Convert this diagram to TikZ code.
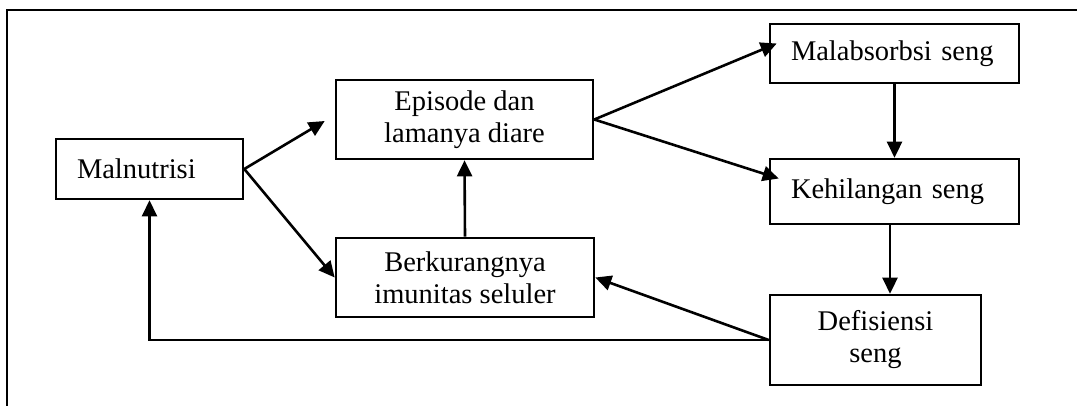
\documentclass[tikz,border=0pt]{standalone}
\usepackage{fontspec}
\setmainfont{Liberation Serif}
\usetikzlibrary{arrows.meta,calc}
\begin{document}
\begin{tikzpicture}[x=1pt,y=-1pt,
  box/.style={draw,line width=2.6pt,rectangle,inner sep=0pt,font=\fontsize{28.5}{32}\selectfont,align=center},
  leftbox/.style={box,align=left,inner xsep=21pt},
  arr/.style={line width=2.6pt,-{Triangle[length=16pt,width=15pt]}},
  ln/.style={line width=2.6pt}]
\useasboundingbox (0,0) rectangle (1077,405);
\draw[ln] (7,406) -- (7,10) -- (1078,10);

\node[leftbox,text width=145pt,minimum height=60pt] (mal) at (149.5,169) {Malnutrisi};
\node[box,minimum width=257pt,minimum height=79pt] (epi) at (464.5,119.5) {Episode dan\\lamanya diare};
\node[box,minimum width=258pt,minimum height=79pt] (berk) at (465,277.5) {Berkurangnya\\imunitas seluler};
\node[leftbox,text width=207pt,minimum height=59pt] (malab) at (894.5,53.5) {Malabsorbsi seng};
\node[leftbox,text width=207pt,minimum height=65pt] (kehil) at (894.5,191.5) {Kehilangan seng};
\node[box,minimum width=211pt,minimum height=90pt] (def) at (875.5,340) {Defisiensi\\seng};

\draw[arr] (mal.east) -- ($(epi.west)+(-10,1.5)$);
\draw[arr] (mal.east) -- (berk.west);
\draw[arr] (berk.north) -- (epi.south);
\draw[arr] (epi.east) -- ($(malab.west)+(8,-10)$);
\draw[arr] (epi.east) -- ($(kehil.west)+(10,-13)$);
\draw[arr] (malab.south) -- (kehil.north);
\draw[arr] ($(kehil.south)+(-4.5,0)$) -- ($(kehil.south |- def.north)+(-4.5,0)$);
\draw[arr] (def.west) -- (berk.east);
\draw[arr] (def.west) -| (mal.south);
\end{tikzpicture}
\end{document}
